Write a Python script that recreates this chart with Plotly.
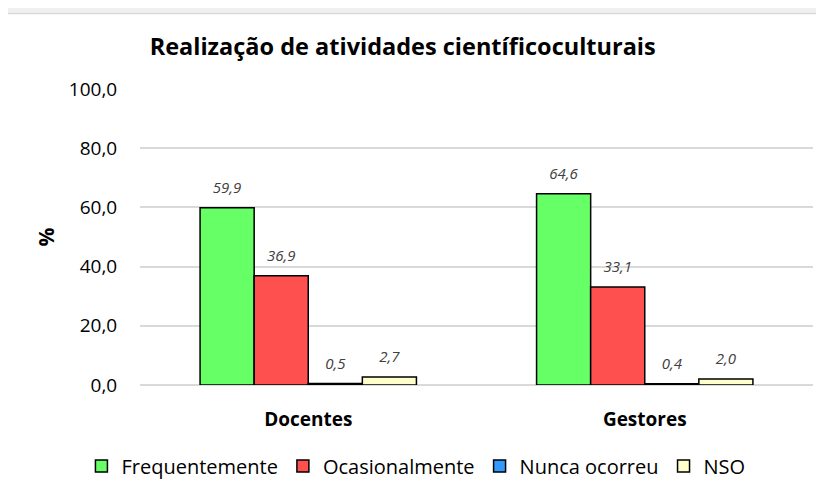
import plotly.graph_objects as go

categories = ["Docentes", "Gestores"]
series_names = ["Frequentemente", "Ocasionalmente", "Nunca ocorreu", "NSO"]
frequentemente = [59.9, 64.6]
ocasionalmente = [36.9, 33.1]
nunca_ocorreu = [0.5, 0.4]
nso = [2.7, 2.0]
y_ticks = [0, 20, 40, 60, 80, 100]

series_values = [frequentemente, ocasionalmente, nunca_ocorreu, nso]
colors = ["#66ff66", "#ff5050", "#3399ff", "#ffffcc"]

FONT = "Open Sans"

fig = go.Figure()
for i, (name, vals, col) in enumerate(zip(series_names, series_values, colors)):
    fig.add_trace(go.Bar(
        x=categories, y=vals, name=name,
        marker=dict(color=col, line=dict(color="black", width=1.5)),
        offsetgroup=str(i),
    ))
for i, (name, vals) in enumerate(zip(series_names, series_values)):
    fig.add_trace(go.Scatter(
        x=categories, y=vals, mode="markers+text",
        text=[f"{v:.1f}".replace(".", ",") for v in vals],
        textposition="top center",
        textfont=dict(family=FONT, size=15, color="#404040", style="italic"),
        marker=dict(size=16, color="rgba(0,0,0,0)"),
        offsetgroup=str(i), showlegend=False, hoverinfo="skip",
        cliponaxis=False,
    ))

fig.update_layout(
    width=824, height=490,
    separators=",.",
    barmode="group", bargap=0.357, bargroupgap=0,
    scattermode="group", scattergap=0.357,
    paper_bgcolor="#f0f0f0", plot_bgcolor="white",
    margin=dict(l=132, r=19, t=81, b=108),
    font=dict(family=FONT, color="black"),
    title=dict(text="<b>Realização de atividades científicoculturais</b>",
               x=0.479, xanchor="center", y=0.920, yanchor="middle",
               font=dict(family=FONT, size=23.5, color="black")),
    showlegend=True,
    legend=dict(orientation="h", x=0.41, xanchor="center", y=-0.208, yanchor="top",
                font=dict(family=FONT, size=20, color="black"),
                bgcolor="rgba(0,0,0,0)", traceorder="normal"),
    shapes=[dict(type="rect", xref="paper", yref="paper",
                 x0=-0.198, x1=1.3, y0=-0.8, y1=1.255,
                 fillcolor="white", line=dict(color="#d9d9d9", width=1.5),
                 layer="below")],
)
fig.update_yaxes(range=[0, 100], tickvals=y_ticks, tickformat=".1f",
                 automargin=False,
                 showgrid=True, gridcolor="#d9d9d9", gridwidth=1.5,
                 zeroline=True, zerolinecolor="#d9d9d9", zerolinewidth=1.5,
                 tickfont=dict(family=FONT, size=19, color="black"),
                 ticks="outside", ticklen=18, tickcolor="rgba(0,0,0,0)",
                 title=dict(text="<b>%</b>", font=dict(family=FONT, size=21, color="black"), standoff=8))
fig.update_xaxes(showline=False, automargin=False,
                 ticks="outside", ticklen=17, tickcolor="rgba(0,0,0,0)",
                 tickfont=dict(family=FONT, size=19, color="black"),
                 tickprefix="<b>", ticksuffix="</b>")

fig.write_html("out.html")
